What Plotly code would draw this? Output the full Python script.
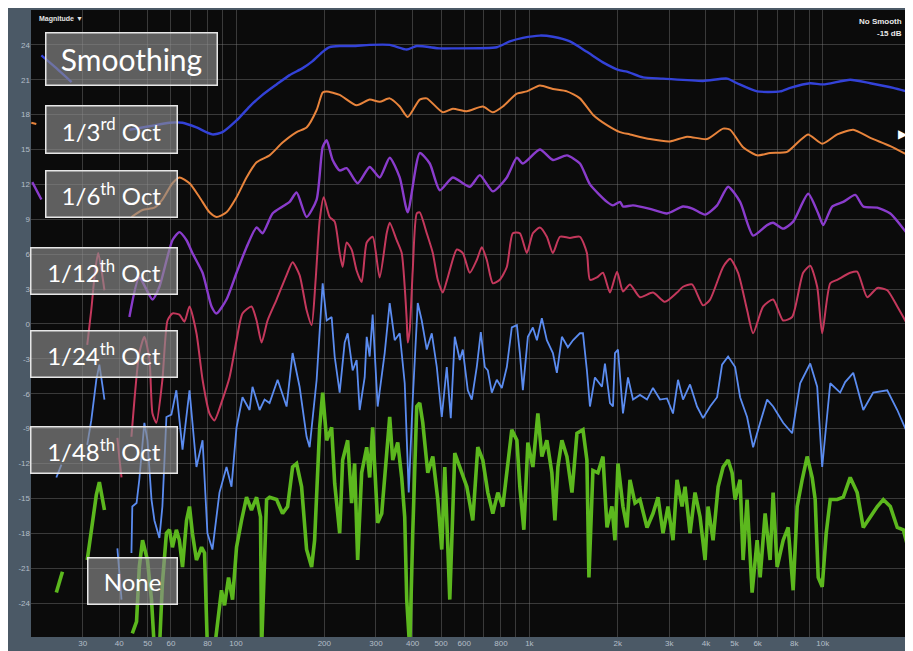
import math
import plotly.graph_objects as go

# ---------------- data (frequency in Hz, level in dB); (None, None) = blanked gap -------------
third_oct = [(21.7,23.1),(24.4,22.0),(27.5,20.8),(None,None),
 (43.3,16.7),(50.7,17.0),(59.3,17.3),(65.7,17.3),(73.3,16.9),(83.1,16.3),(89.9,16.5),(100.4,17.5),
 (111.2,18.7),(123.1,19.7),(137.5,20.6),(152.3,21.4),(168.7,22.0),(182.4,22.6),(197.4,23.4),(208.5,23.8),
 (225.6,23.9),(250.0,23.9),(285.5,24.0),(334.1,24.0),(381.9,23.6),(413.1,23.9),(495,23.7),(548.2,23.7),(774.5,23.8),
 (857.7,24.3),(950.2,24.6),(1086,24.8),(1203,24.7),(1375,24.3),(1571,23.4),(1782,22.5),(2037,21.8),
 (2151,21.7),(2440,21.2),(2855,21.1),(3910,20.9),(4722,21.1),(5108,20.7),(5976,20.0),(7161,20.0),
 (7745,20.3),(9066,20.7),(10040,20.6),(12410,21.0),(14530,20.7),(17400,20.3),(19900,19.9)]

sixth_oct = [(20.05,17.3),(20.85,17.2),(None,None),
 (44.0,9.2),(48.0,9.8),(52.7,10.0),(56.1,10.7),(60.7,12.1),(64.1,12.6),(69.4,12.1),(75.1,10.9),(81.2,9.6),
 (85.8,9.2),(92.8,9.6),(100.4,10.9),(108.6,12.6),(117.5,13.9),(130.1,14.5),(144.1,15.6),(160.9,16.5),
 (174.0,16.9),(188.3,18.4),(197.4,19.9),(203.7,20.0),(225.6,19.7),(257.7,18.8),(285.5,19.3),(308.8,19.1),
 (334.1,19.4),(361.4,18.7),(384.9,17.8),(422.9,19.3),(446.9,19.4),(506.8,18.2),(548.2,18.5),(612,18.3),
 (693.8,18.7),(750.6,18.2),(811.9,18.7),(906.6,19.8),(980.6,20.0),(1086,20.5),(1203,20.2),(1343,20.0),
 (1487,19.4),(1647,18.0),(1839,17.1),(2037,16.5),(2203,16.3),(2577,15.9),(3016,15.7),(3448,16.1),
 (4035,15.9),(4576,16.8),(4835,16.7),(5354,15.2),(5976,14.5),(6618,14.7),(7565,14.8),(8378,15.8),
 (8922,16.3),(9960,15.5),(11210,16.3),(12710,16.7),(14530,16.0),(17000,15.3),(19900,14.4)]

twelfth_oct = [(20.2,12.2),(21.7,10.7),(None,None),
 (43.3,0.6),(46.8,4.0),(51.9,2.1),(54.8,3.2),(60.7,7.2),(64.1,7.9),(67.8,7.2),(71.0,6.1),(76.9,4.4),
 (82.5,1.5),(85.8,0.9),(92.8,2.1),(100.4,4.4),(108.6,6.6),(117.5,8.3),(123.1,7.8),(133.2,9.5),(144.1,10.1),
 (152.3,10.5),(160.9,11.3),(174.0,9.2),(188.3,10.7),(197.4,15.2),(203.7,15.8),(213.5,14.1),(225.6,13.2),
 (238.3,13.4),(259.8,12.1),(285.5,13.5),(308.8,12.6),(334.1,14.3),(361.4,12.6),(384.9,9.6),(422.9,14.7),
 (457.6,13.8),(495,11.5),(548.2,12.6),(626.4,11.8),(677.7,12.8),(750.6,11.4),(837.8,12.6),(906.6,14.3),
 (950.2,13.8),(1086,15.0),(1203,14.1),(1343,14.5),(1487,13.8),(1609,12.0),(1839,10.5),(1928,10.2),
 (2037,10.5),(2085,10.1),(2256,10.2),(2577,9.9),(2946,9.5),(3341,10.1),(3614,9.9),(3972,9.4),(4365,10.2),
 (4759,11.8),(5229,10.5),(5792,7.6),(6465,8.5),(6777,8.7),(7331,8.2),(7930,8.8),(8922,11.2),(9654,9.5),
 (10040,8.5),(10770,10.1),(11750,10.5),(12910,11.1),(13750,10.1),(15350,10.0),(17000,9.5),(19900,7.4)]

twentyfourth_oct = [(31.1,-1.8),(32.1,1.2),(33.1,4.6),(33.9,6.1),(34.8,4.6),(35.6,2.9),(None,None),
 (39.4,-9.8),(40.0,-11.5),(40.7,-13.2),(None,None),
 (44.0,-9.7),(46.8,-2.5),(48.7,-1.1),(50.7,-3.1),(51.9,-7.7),(53.5,-8.5),(56.1,-4.8),(58.4,0.3),(60.7,0.9),
 (64.1,0.8),(66.7,0.2),(69.4,1.5),(73.3,-0.8),(76.9,-4.8),(81.2,-7.7),(84.4,-8.3),(89.9,-6.5),(95.0,-4.6),
 (100.4,-1.4),(105.2,0.9),(112.9,1.5),(117.5,0.3),(122.2,-1.6),(128.1,0.3),(137.5,2.1),(148.7,4.2),
 (155.9,5.3),(164.7,4.2),(174.0,1.2),(181.0,-0.1),(186.8,3.8),(192.8,8.9),(199.0,10.9),(208.5,9.2),
 (216.9,8.8),(225.6,6.1),(230.9,4.9),(238.3,7.0),(247.8,6.4),(257.7,4.6),(268.1,3.6),(278.9,7.0),
 (292.3,7.5),(308.8,4.0),(326.3,7.8),(334.1,8.7),(353.0,7.2),(367.1,6.1),(375.9,3.2),(381.9,0.3),
 (384.9,-1.6),(391.0,-0.5),(400.3,4.6),(413.1,9.5),(422.9,9.6),(446.9,7.8),(468.6,6.1),(487.3,3.8),
 (506.8,2.7),(527.0,4.0),(565.7,6.4),(593.0,6.1),(626.4,4.4),(661.8,5.5),(688.5,6.6),(716.1,5.5),
 (750.6,3.5),(793.0,3.8),(837.8,4.9),(878.2,7.8),(928.1,7.8),(980.6,6.1),(1028,7.8),(1086,8.3),(1147,7.5),
 (1203,6.1),(1271,7.5),(1375,7.4),(1487,7.5),(1571,6.1),(1609,3.8),(1700,4.0),(1782,4.4),(1883,2.7),
 (1990,4.5),(2085,2.8),(2203,3.4),(2383,2.3),(2639,2.7),(2900,1.9),(3187,2.7),(3341,3.2),(3586,3.4),
 (3910,1.6),(4131,2.1),(4576,4.9),(4835,5.6),(5148,4.4),(5524,1.2),(5792,-0.8),(6264,1.5),(6777,2.1),
 (7331,0.3),(7868,0.6),(8577,4.4),(9066,5.0),(9577,3.2),(9960,-0.8),(10610,3.5),(11210,3.8),(12410,4.4),
 (13110,4.5),(14190,2.3),(15350,3.1),(16600,2.9),(17960,1.5),(19900,-0.5)]

fortyeighth_oct = [(24.4,-13.2),(25.4,-12.1),(None,None),
 (31.1,-10.4),(32.1,-8.3),(33.4,-4.8),(34.2,-3.5),(35.0,-5.2),(35.6,-6.5),(None,None),
 (39.4,-19.3),(40.0,-21.6),(40.7,-23.7),(None,None),
 (44.0,-19.7),(44.3,-15.7),(45.8,-15.4),(46.8,-13.4),(48.7,-8.5),(49.9,-10.0),(51.5,-15.1),(52.7,-16.9),
 (54.8,-18.4),(56.1,-15.7),(57.9,-8.0),(60.2,-7.8),(62.6,-5.7),(65.7,-10.8),(69.4,-5.7),(73.3,-12.3),
 (76.9,-10.0),(79.9,-18.0),(83.1,-19.4),(87.8,-14.5),(92.8,-12.3),(96.5,-14.0),(100.4,-8.9),(105.2,-6.3),
 (111.2,-7.4),(113.8,-5.4),(120.3,-7.4),(125.1,-6.5),(130.1,-6.8),(138.6,-4.8),(148.7,-7.1),(155.9,-2.5),
 (164.7,-5.4),(174.0,-9.7),(178.2,-10.6),(188.3,-4.8),(197.4,3.5),(203.7,0.3),(211.8,0.6),(216.9,-2.8),
 (225.6,-5.9),(234.6,-1.6),(240.2,-0.8),(249.8,-4.0),(257.7,-3.1),(263.9,-7.4),(274.5,-4.6),(278.9,-1.1),
 (285.5,-2.8),(292.3,0.8),(304.0,-7.1),(321.2,-2.5),(334.1,1.8),(347.5,-1.4),(361.4,-0.8),(375.9,-5.1),
 (387.9,-14.5),(400.3,-6.5),(416.4,1.8),(429.6,0.3),(446.9,-2.2),(464.9,-0.8),(483.5,-3.7),(502.8,-8.0),
 (522.9,-3.7),(539.6,-8.1),(556.8,-1.1),(579.2,-3.1),(593.0,-2.2),(616.8,-5.7),(636.4,-6.5),(661.8,-3.7),
 (683.1,-0.7),(704.9,-3.7),(721.8,-4.0),(744.7,-5.9),(774.5,-4.8),(805.6,-5.5),(837.8,-3.7),(871.3,-0.3),
 (906.6,-0.1),(928.1,-2.5),(950.2,-5.7),(988.3,-1.1),(1028,-0.3),(1061,-1.4),(1103,0.5),(1147,-1.4),
 (1203,-2.5),(1241,-4.2),(1291,-1.1),(1353,-2.0),(1408,-1.4),(1487,-0.8),(1523,-0.8),(1571,-4.0),
 (1609,-7.1),(1673,-4.6),(1768,-5.4),(1810,-3.4),(1883,-6.8),(1928,-7.1),(1958,-2.5),(2005,-2.2),
 (2085,-7.7),(2169,-4.6),(2256,-6.5),(2383,-6.1),(2518,-6.5),(2639,-5.5),(2789,-6.5),(2946,-6.4),
 (3088,-7.7),(3212,-4.8),(3341,-6.5),(3530,-5.2),(3729,-7.1),(3910,-8.1),(4131,-7.1),(4365,-6.3),
 (4539,-3.5),(4759,-2.8),(5028,-3.7),(5229,-6.3),(5524,-8.0),(5792,-10.6),(6120,-8.5),(6465,-6.5),
 (6777,-7.1),(7331,-8.5),(7868,-9.4),(8378,-5.1),(9066,-3.4),(9577,-5.4),(9960,-12.3),(10610,-5.1),
 (11470,-5.9),(11930,-5.0),(12710,-4.2),(13750,-7.4),(14870,-5.9),(16600,-5.7),(17960,-7.4),(19900,-10.0)]

no_smoothing = [(24.4,-23.1),(25.0,-22.2),(25.6,-21.3),(None,None),
 (31.1,-20.3),(32.1,-17.7),(33.4,-14.7),(34.2,-13.6),(35.0,-15.1),(35.6,-16.0),(None,None),
 (44.3,-26.6),(45.8,-25.6),(46.8,-20.9),(48.0,-18.6),(49.9,-20.3),(51.5,-23.7),(52.7,-28.0),(54.8,-28.0),
 (56.1,-22.3),(57.9,-18.0),(59.3,-17.7),(60.7,-19.2),(62.6,-17.7),(64.1,-18.6),(65.7,-20.9),(67.8,-16.9),
 (69.4,-15.7),(71.0,-18.0),(73.3,-20.3),(76.3,-19.2),(78.1,-19.7),(79.9,-28.0),(84.4,-28.0),(86.5,-25.8),
 (89.2,-22.9),(91.4,-24.2),(94.3,-21.8),(97.3,-23.7),(100.4,-19.2),(104.4,-16.9),(108.6,-14.9),
 (112.9,-16.0),(117.5,-14.9),(121.2,-16.6),(122.2,-28.0),(125.1,-20.3),(127.1,-15.1),(130.1,-14.9),
 (137.5,-15.1),(144.1,-16.3),(149.9,-15.7),(155.9,-12.3),(160.9,-12.0),(167.3,-14.0),(174.0,-19.4),
 (181.0,-20.9),(185.3,-18.6),(192.8,-8.9),(197.4,-5.9),(203.7,-10.0),(211.8,-8.9),(216.9,-13.7),
 (225.6,-18.0),(230.9,-11.7),(240.2,-10.0),(247.8,-15.4),(253.7,-12.0),(259.8,-20.3),(268.1,-12.8),
 (278.9,-10.6),(285.5,-13.2),(292.3,-8.9),(304.0,-17.1),(313.8,-16.3),(321.2,-13.4),(334.1,-8.0),
 (342.1,-11.7),(355.8,-10.2),(367.1,-13.2),(375.9,-16.6),(381.9,-23.7),(391.0,-28.0),(400.3,-18.0),
 (413.1,-7.1),(422.9,-6.8),(433.1,-8.5),(450.5,-12.8),(468.6,-11.4),(487.3,-15.1),(502.8,-19.4),
 (514.8,-12.3),(535.4,-23.7),(556.8,-11.1),(579.2,-12.3),(612.0,-14.0),(641.4,-16.9),(667.1,-10.6),
 (693.8,-11.7),(721.8,-14.5),(750.6,-16.3),(780.7,-14.5),(811.9,-15.7),(844.4,-11.7),(871.3,-9.1),
 (906.6,-10.0),(928.1,-14.0),(957.7,-17.7),(988.3,-10.2),(1028,-12.3),(1069,-7.7),(1103,-11.4),
 (1147,-10.0),(1193,-12.8),(1222,-16.9),(1251,-12.3),(1291,-10.0),(1343,-11.4),(1397,-14.5),(1453,-9.4),
 (1523,-9.1),(1571,-11.7),(1596,-21.8),(1647,-12.6),(1713,-12.8),(1782,-11.4),(1839,-17.5),(1912,-15.7),
 (1958,-18.6),(2005,-12.0),(2085,-15.7),(2151,-17.5),(2203,-13.4),(2292,-15.4),(2383,-15.1),(2518,-17.5),
 (2639,-16.3),(2745,-14.9),(2855,-18.0),(2969,-15.7),(3088,-18.6),(3187,-13.4),(3315,-15.7),(3394,-14.0),
 (3530,-18.0),(3671,-14.5),(3819,-16.6),(3972,-20.3),(4066,-15.7),(4229,-18.6),(4400,-14.0),(4576,-12.3),
 (4759,-11.7),(4911,-12.8),(5028,-15.1),(5229,-13.4),(5354,-20.3),(5524,-15.1),(5746,-23.1),(5976,-18.6),
 (6120,-21.8),(6364,-16.3),(6618,-20.3),(6777,-14.5),(6992,-20.9),(7331,-18.6),(7625,-17.5),(7930,-22.9),
 (8184,-15.7),(8511,-13.4),(8851,-11.4),(9208,-13.2),(9428,-15.1),(9654,-21.8),(9960,-22.6),(10280,-18.0),
 (10610,-15.1),(11210,-15.1),(11750,-14.9),(12410,-13.2),(13110,-14.5),(13750,-17.5),(14530,-16.6),
 (15350,-15.7),(16090,-15.1),(17000,-15.7),(17960,-17.5),(18830,-17.7),(19900,-20.0)]

freq_ticks = [30, 40, 50, 60, 80, 100, 200, 300, 400, 500, 600, 800,
              1000, 2000, 3000, 4000, 5000, 6000, 8000, 10000]
freq_labels = ["30", "40", "50", "60", "80", "100", "200", "300", "400", "500", "600", "800",
               "1k", "2k", "3k", "4k", "5k", "6k", "8k", "10k"]
freq_minor = [20, 70, 90, 700, 900, 7000, 9000, 20000]
db_ticks = [24, 21, 18, 15, 12, 9, 6, 3, 0, -3, -6, -9, -12, -15, -18, -21, -24]

label_texts = ["Smoothing", "1/3<sup>rd</sup> Oct", "1/6<sup>th</sup> Oct", "1/12<sup>th</sup> Oct",
               "1/24<sup>th</sup> Oct", "1/48<sup>th</sup> Oct", "None"]

# ---------------- figure -------------
series = [
    ("None", no_smoothing, "#5cb81e", 3.6, "linear"),
    ("1/48 Oct", fortyeighth_oct, "#5b8cf0", 1.8, "linear"),
    ("1/24 Oct", twentyfourth_oct, "#c4385c", 2.0, "spline"),
    ("1/12 Oct", twelfth_oct, "#8a3ccc", 2.4, "spline"),
    ("1/6 Oct", sixth_oct, "#e8843c", 2.0, "spline"),
    ("1/3 Oct", third_oct, "#3342d8", 2.4, "spline"),
]

fig = go.Figure()
for name, pts, color, width, shape in series:
    line = dict(color=color, width=width, shape=shape)
    if shape == "spline":
        line["smoothing"] = 0.6
    fig.add_trace(go.Scatter(
        x=[p[0] for p in pts], y=[p[1] for p in pts], mode="lines", name=name,
        line=line, connectgaps=False, hoverinfo="skip", showlegend=False))

# page body keeps an 8 px margin, so the figure starts 8 px in from the window corner
OFF = 8
W, H = 913, 651
PL, PR, PT, PB = 23, 10, 2, 22
pw, ph = W - PL - PR, H - PT - PB

def px(x):  # screenshot pixel -> paper fraction
    return (x - OFF - PL) / pw

def py(y):
    return (H - PB - (y - OFF)) / ph

box_specs = [  # left, top, right, bottom (screen pixels), font size
    (45, 32, 218, 86, 30),
    (45, 105, 178, 154, 24),
    (45, 170, 178, 218, 24),
    (30, 247, 178, 295, 24),
    (30, 330, 178, 378, 24),
    (30, 426, 178, 474, 24),
    (87, 557, 178, 605, 24),
]
annotations = []
for text, (l, t, r, b, fs) in zip(label_texts, box_specs):
    annotations.append(dict(
        text=text, xref="paper", yref="paper", x=px(l), y=py(t), xanchor="left", yanchor="top",
        showarrow=False, width=r - l - 3, height=b - t - 3, align="center", valign="middle",
        bgcolor="rgba(140,140,140,0.66)", bordercolor="#e6e6e6", borderwidth=1.5, borderpad=0,
        font=dict(family="Lato, Open Sans, sans-serif", size=fs, color="white")))

annotations += [
    dict(text="<b>Magnitude ▼</b>", xref="paper", yref="paper", x=px(37), y=py(19.5),
         xanchor="left", yanchor="middle", showarrow=False,
         font=dict(family="Liberation Sans", size=7, color="#e4e4e4")),
    dict(text="<b>No Smooth</b>", xref="paper", yref="paper", x=px(904), y=py(21.5),
         xanchor="right", yanchor="middle", showarrow=False,
         font=dict(family="Liberation Sans", size=8, color="#e8e8e8")),
    dict(text="<b>-15 dB</b>", xref="paper", yref="paper", x=px(904), y=py(33),
         xanchor="right", yanchor="middle", showarrow=False,
         font=dict(family="Liberation Sans", size=8, color="#e8e8e8")),
    dict(text="▶", xref="paper", yref="paper", x=px(903), y=py(134),
         xanchor="center", yanchor="middle", showarrow=False,
         font=dict(family="DejaVu Sans", size=12, color="white")),
]

grid = "rgba(125,125,125,0.42)"
tick_font = dict(family="Liberation Sans", size=8, color="#b4bec8")
fig.update_layout(
    template="none",
    width=W, height=H,
    margin=dict(l=PL, r=PR, t=PT, b=PB, pad=0),
    paper_bgcolor="#4b5966",
    plot_bgcolor="#0b0b0b",
    showlegend=False,
    annotations=annotations,
    xaxis=dict(type="log", range=[math.log10(20), math.log10(20000)], tickmode="array",
               tickvals=freq_ticks, ticktext=freq_labels, showgrid=True, gridcolor=grid, gridwidth=1,
               minor=dict(tickmode="array", tickvals=freq_minor, showgrid=True, gridcolor=grid,
                          gridwidth=1, ticks=""),
               zeroline=False, showline=False, ticks="", tickfont=tick_font, automargin=False),
    yaxis=dict(range=[-26.92, 27.0], tickmode="array", tickvals=db_ticks,
               ticktext=[str(v) for v in db_ticks], showgrid=True, gridcolor=grid, gridwidth=1,
               zeroline=False, showline=False, ticks="", tickfont=tick_font, automargin=False),
)

fig.write_html("out.html")
